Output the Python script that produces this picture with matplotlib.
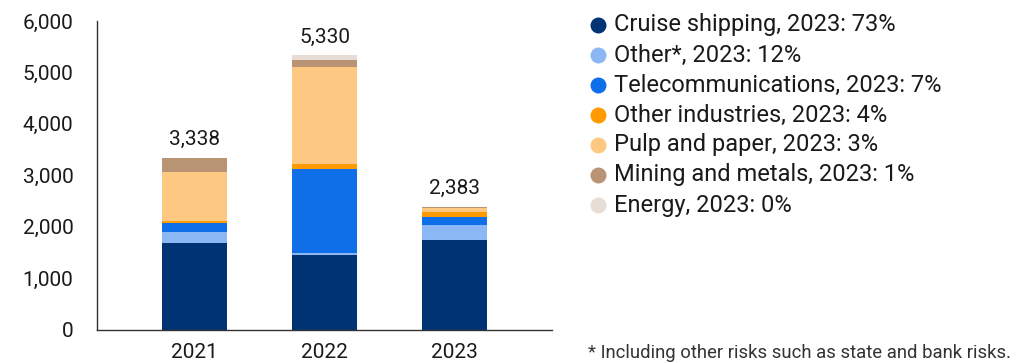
import matplotlib
matplotlib.use("Agg")
import matplotlib.pyplot as plt
from matplotlib.lines import Line2D
import numpy as np

plt.rcParams['font.family'] = ['Roboto', 'DejaVu Sans']

years = ["2021", "2022", "2023"]
totals = [3338, 5330, 2383]

segments = ["Cruise shipping", "Other*", "Telecommunications", "Other industries",
            "Pulp and paper", "Mining and metals", "Energy"]
share_2023 = ["73%", "12%", "7%", "4%", "3%", "1%", "0%"]

cruise_shipping = [1690, 1450, 1738]
other = [210, 40, 285]
telecommunications = [175, 1637, 166]
other_industries = [40, 95, 95]
pulp_and_paper = [950, 1875, 72]
mining_and_metals = [273, 135, 22]
energy = [0, 98, 5]

series = [cruise_shipping, other, telecommunications, other_industries,
          pulp_and_paper, mining_and_metals, energy]
colors = ["#003373", "#8bb8f5", "#0f6fe8", "#ff9a00", "#fdc982", "#b89374", "#e7ddd5"]

fig = plt.figure(figsize=(10.30, 3.63), dpi=100)
ax = fig.add_axes([97 / 1030, 33.5 / 363, 455 / 1030, 308.5 / 363])

x = np.arange(len(years))
bottom = np.zeros(len(years))
for vals, col in zip(series, colors):
    ax.bar(x, vals, width=0.5, bottom=bottom, color=col, edgecolor="none")
    bottom += np.array(vals)

for xi, tot in zip(x, totals):
    ax.text(xi, tot + 170, f"{tot:,}", ha="center", va="bottom",
            fontsize=15, color="#1a1a1a")

ax.set_xlim(-0.745, 2.745)
ax.set_ylim(0, 6000)
ax.set_yticks(range(0, 6001, 1000))
ax.set_yticklabels([f"{v:,}" for v in range(0, 6001, 1000)])
ax.set_xticks(x)
ax.set_xticklabels(years)
ax.tick_params(axis="both", length=0, labelsize=15, colors="#1a1a1a")
ax.tick_params(axis="y", pad=17)
ax.tick_params(axis="x", pad=10)
for side in ("top", "right"):
    ax.spines[side].set_visible(False)
for side in ("left", "bottom"):
    ax.spines[side].set_color("#333333")
    ax.spines[side].set_linewidth(1.0)

# legend rows
for i, (name, share, col) in enumerate(zip(segments, share_2023, colors)):
    yy = 1 - (25 + 30 * i) / 363
    fig.add_artist(Line2D([598 / 1030], [yy], marker="o", markersize=11.5,
                          markerfacecolor=col, markeredgecolor="none",
                          linestyle="none", transform=fig.transFigure))
    fig.text(614 / 1030, yy, f"{name}, 2023: {share}", ha="left", va="center",
             fontsize=17, color="#1a1a1a")

fig.text(588 / 1030, 1 - 353 / 363, "* Including other risks such as state and bank risks.",
         ha="left", va="center", fontsize=13.3, color="#333333")

fig.savefig("out.png", dpi=100)
